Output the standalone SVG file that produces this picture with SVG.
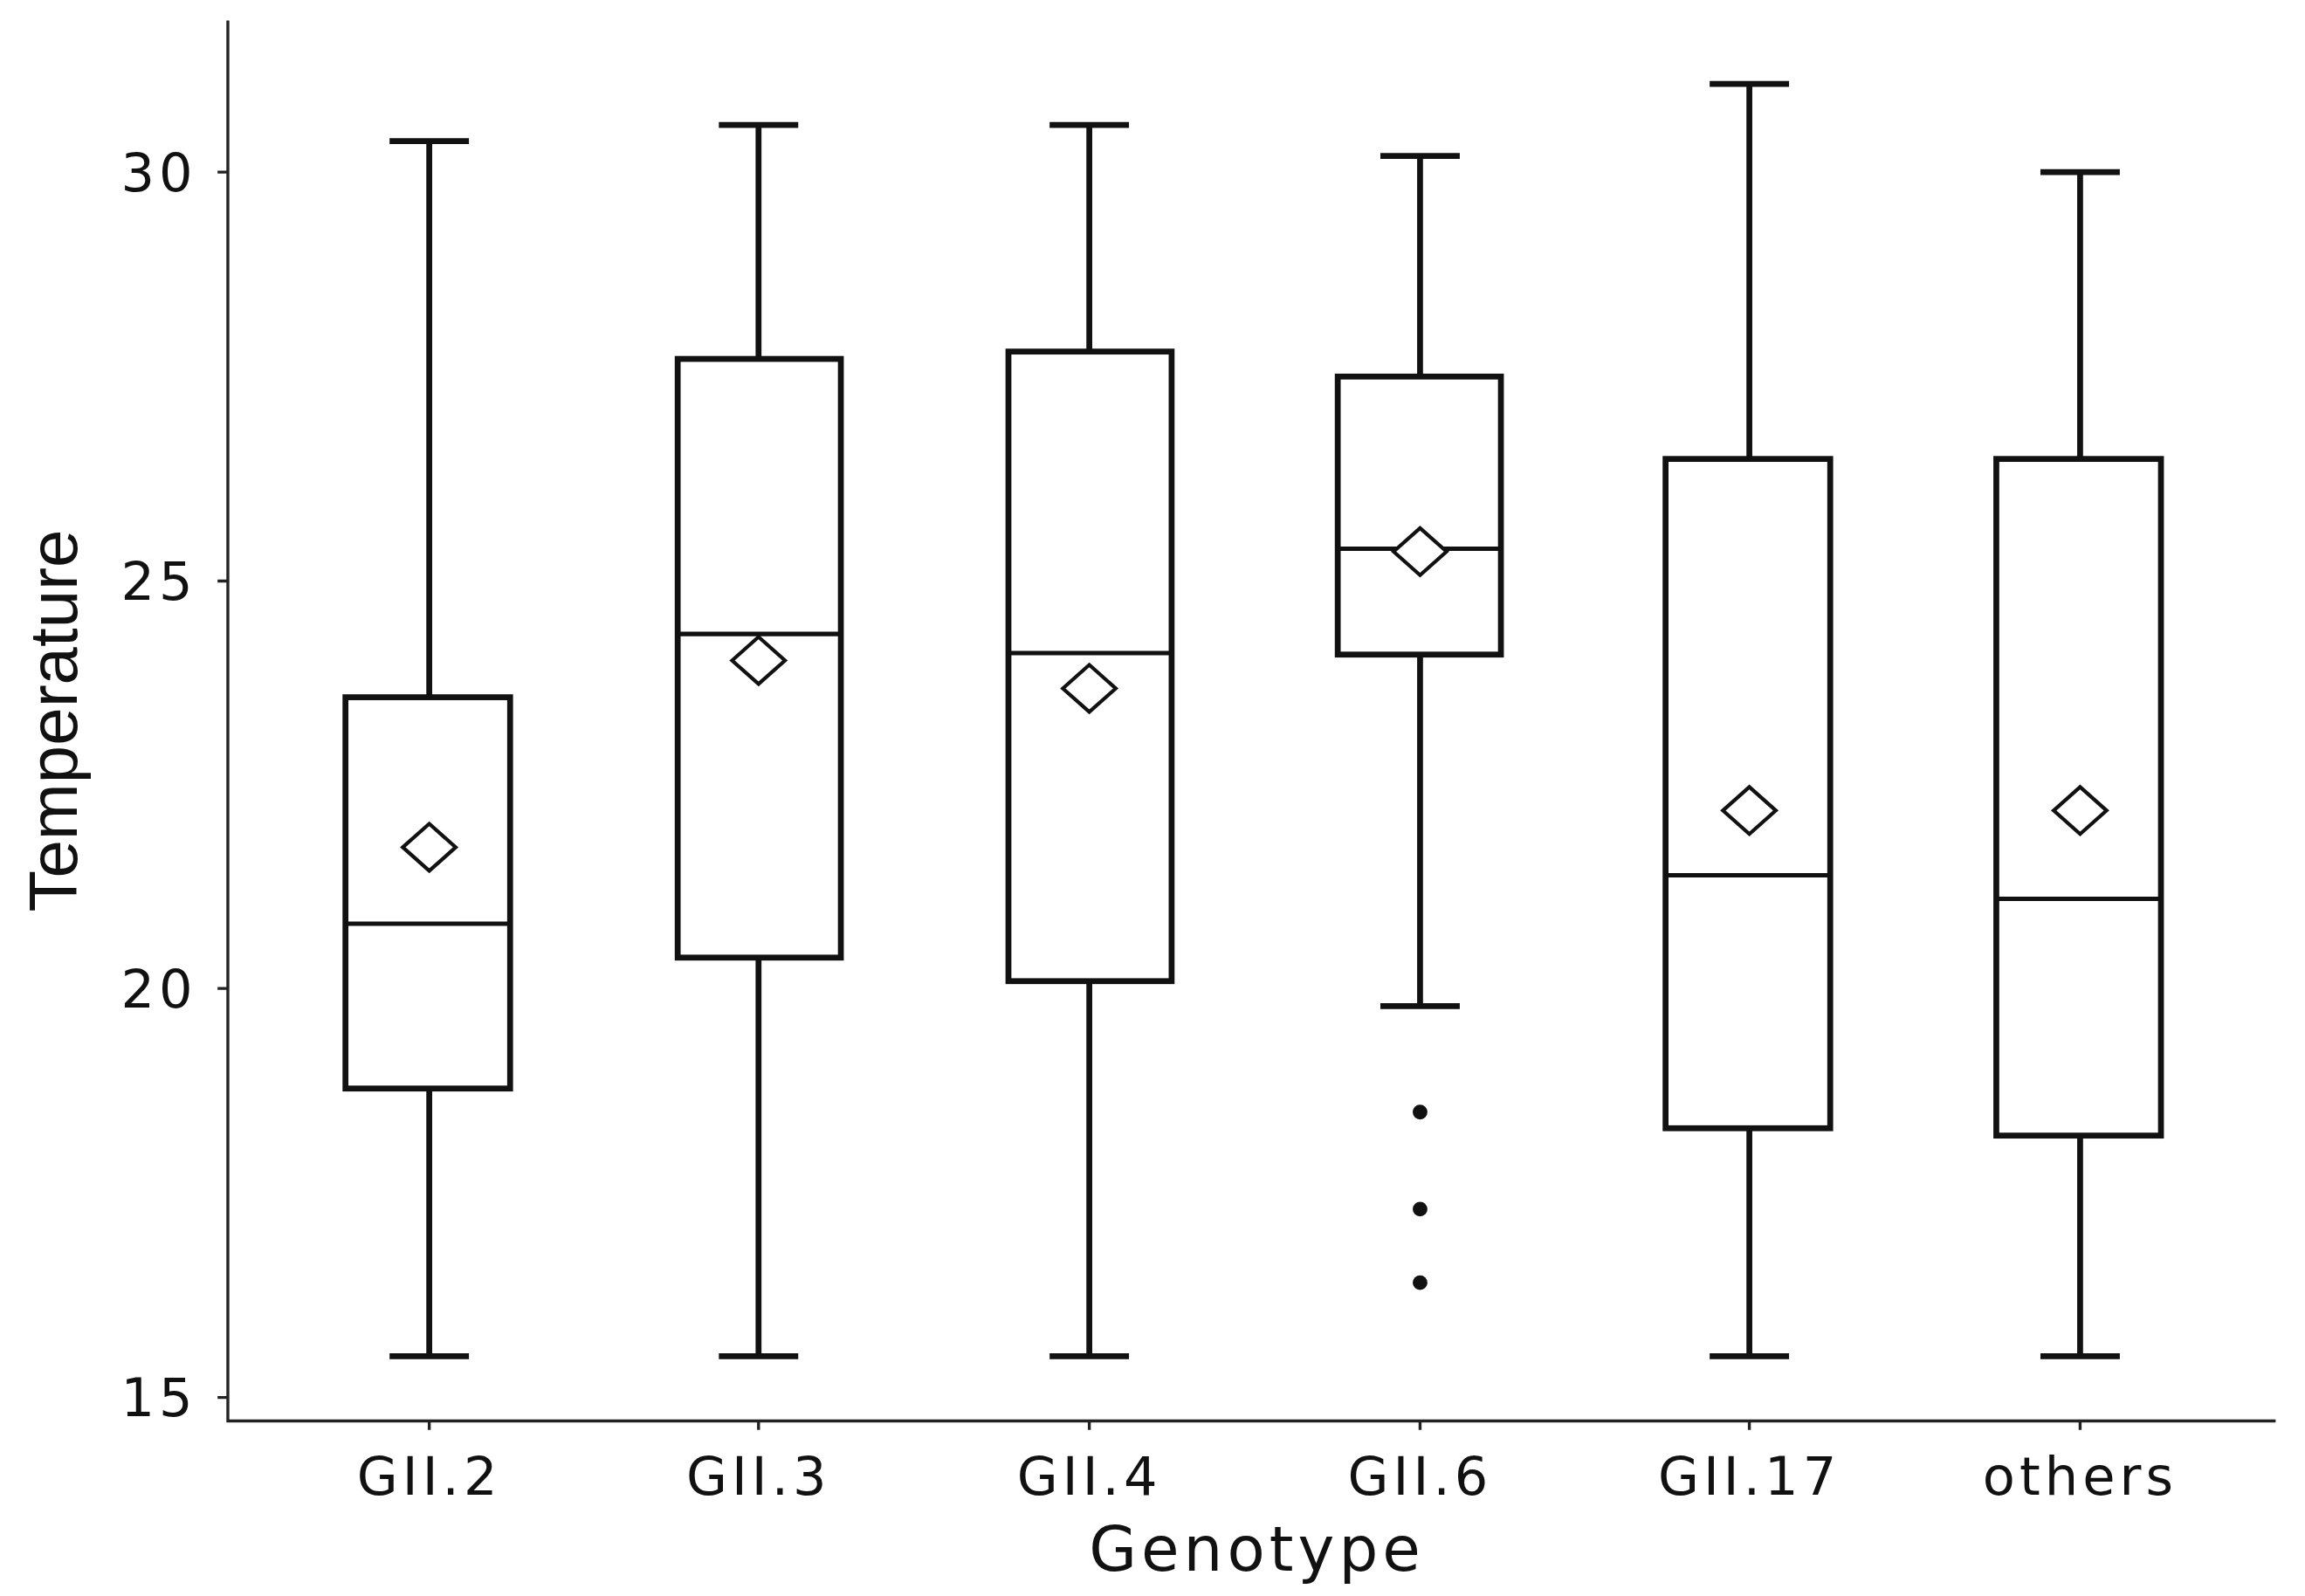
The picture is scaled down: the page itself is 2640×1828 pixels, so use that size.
<svg xmlns="http://www.w3.org/2000/svg" width="2640" height="1828" viewBox="0 0 2640 1828">
<style>
.b{fill:none;stroke:#111;stroke-width:4}
.m{fill:none;stroke:#111;stroke-width:3}
.d{fill:#fff;stroke:#111;stroke-width:2.5}
.ax{stroke:#222;stroke-width:2;fill:none}
.t{font-family:"DejaVu Sans",Verdana,sans-serif;font-size:36px;fill:#111;letter-spacing:3px}
.y{font-family:"Liberation Sans",Arial,sans-serif;fill:#111}
</style>
<rect width="2640" height="1828" fill="#fff"/>
<g transform="scale(1.6837,1.6848)">
<g id="axes">
<path class="ax" d="M155,14V966H1548"/>
<path class="ax" d="M148,117H155M148,395H155M148,672H155M148,950H155"/>
<path class="ax" d="M292,966v6M516,966v6M741,966v6M966,966v6M1190,966v6M1415,966v6"/>
<g class="t" text-anchor="end" font-size="38">
<text x="134" y="130">30</text><text x="134" y="408">25</text><text x="134" y="685">20</text><text x="134" y="963">15</text>
</g>
<g class="t" text-anchor="middle">
<text x="292" y="1016">GII.2</text><text x="516" y="1016">GII.3</text><text x="741" y="1016">GII.4</text><text x="966" y="1016">GII.6</text><text x="1190" y="1016">GII.17</text><text x="1415" y="1016">others</text>
<text x="855" y="1068" font-size="42">Genotype</text>
</g>
<text class="y" transform="translate(52,490) rotate(-90)" text-anchor="middle" font-size="46" textLength="260" lengthAdjust="spacingAndGlyphs">Temperature</text>
</g>
<g id="GII2">
<path class="b" d="M265,96H319M292,96V474M292,740V922M265,922H319"/>
<rect class="b" x="235" y="474" width="112" height="266"/>
<path class="m" d="M235,628H347"/>
<path class="d" d="M274,576L292,560L310,576L292,592Z"/>
</g>
<g id="GII3">
<path class="b" d="M489,85H543M516,85V244M516,651V922M489,922H543"/>
<rect class="b" x="461" y="244" width="111" height="407"/>
<path class="m" d="M461,431H572"/>
<path class="d" d="M498,449L516,433L534,449L516,465Z"/>
</g>
<g id="GII4">
<path class="b" d="M714,85H768M741,85V239M741,667V922M714,922H768"/>
<rect class="b" x="686" y="239" width="111" height="428"/>
<path class="m" d="M686,444H797"/>
<path class="d" d="M723,468L741,452L759,468L741,484Z"/>
</g>
<g id="GII6">
<path class="b" d="M939,106H993M966,106V256M966,445V684M939,684H993"/>
<rect class="b" x="910" y="256" width="111" height="189"/>
<path class="m" d="M910,373H1021"/>
<path class="d" d="M948,375L966,359L984,375L966,391Z"/>
<circle cx="966" cy="756" r="5" fill="#111"/><circle cx="966" cy="822" r="5" fill="#111"/><circle cx="966" cy="872" r="5" fill="#111"/>
</g>
<g id="GII17">
<path class="b" d="M1163,57H1217M1190,57V312M1190,767V922M1163,922H1217"/>
<rect class="b" x="1133" y="312" width="112" height="455"/>
<path class="m" d="M1133,595H1245"/>
<path class="d" d="M1172,551L1190,535L1208,551L1190,567Z"/>
</g>
<g id="others">
<path class="b" d="M1388,117H1442M1415,117V312M1415,772V922M1388,922H1442"/>
<rect class="b" x="1358" y="312" width="112" height="460"/>
<path class="m" d="M1358,611H1470"/>
<path class="d" d="M1397,551L1415,535L1433,551L1415,567Z"/>
</g>
</g>
</svg>
